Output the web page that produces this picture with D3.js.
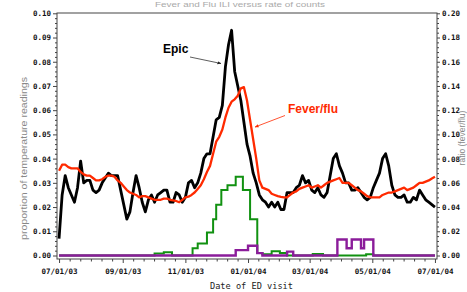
<!DOCTYPE html>
<html>
<head>
<meta charset="utf-8">
<script src="https://cdn.jsdelivr.net/npm/d3@7"></script>
<style>
  body { margin: 0; background: #fff; }
  svg { display: block; }
</style>
</head>
<body>
<div class="chart"></div>
<script>
'use strict';

// Epic and fever/flu series, one value every 3 days from 07/01/03
const seriesStart = '2003-07-01';
const seriesStepDays = 3;

const epicValues = [
    0.007, 0.025, 0.033, 0.028, 0.025, 0.022, 0.028, 0.039, 0.030, 0.031,
    0.031, 0.027, 0.026, 0.027, 0.030, 0.032, 0.034, 0.033, 0.033, 0.033,
    0.027, 0.021, 0.015, 0.018, 0.026, 0.033, 0.028, 0.022, 0.018, 0.023,
    0.025, 0.022, 0.025, 0.026, 0.027, 0.027, 0.022, 0.022, 0.026, 0.025,
    0.022, 0.024, 0.030, 0.031, 0.028, 0.030, 0.034, 0.040, 0.042, 0.042,
    0.049, 0.056, 0.057, 0.062, 0.078, 0.087, 0.093, 0.076, 0.070, 0.064,
    0.055, 0.046, 0.041, 0.034, 0.030, 0.025, 0.023, 0.022, 0.020, 0.022,
    0.020, 0.022, 0.019, 0.019, 0.026, 0.026, 0.026, 0.028, 0.029, 0.033,
    0.030, 0.031, 0.027, 0.026, 0.028, 0.025, 0.024, 0.026, 0.033, 0.040,
    0.042, 0.037, 0.034, 0.030, 0.030, 0.027, 0.027, 0.028, 0.026, 0.024,
    0.023, 0.024, 0.028, 0.031, 0.034, 0.040, 0.042, 0.037, 0.029, 0.025,
    0.024, 0.024, 0.025, 0.022, 0.022, 0.024, 0.023, 0.027, 0.025, 0.023,
    0.022, 0.021, 0.020
];

const feverValues = [
    0.0350, 0.0375, 0.0375, 0.0365, 0.0360, 0.0360, 0.0360, 0.0345, 0.0335, 0.0330,
    0.0330, 0.0320, 0.0310, 0.0310, 0.0315, 0.0325, 0.0330, 0.0330, 0.0325, 0.0310,
    0.0300, 0.0285, 0.0270, 0.0260, 0.0255, 0.0250, 0.0240, 0.0245, 0.0245, 0.0240,
    0.0235, 0.0230, 0.0230, 0.0230, 0.0235, 0.0235, 0.0230, 0.0228, 0.0225, 0.0220,
    0.0230, 0.0240, 0.0243, 0.0250, 0.0260, 0.0275, 0.0290, 0.0315, 0.0345, 0.0370,
    0.0420, 0.0470, 0.0490, 0.0520, 0.0570, 0.0610, 0.0635, 0.0645, 0.0660, 0.0690,
    0.0695, 0.0640, 0.0560, 0.0480, 0.0400, 0.0310, 0.0280, 0.0275, 0.0270, 0.0255,
    0.0250, 0.0245, 0.0242, 0.0240, 0.0240, 0.0250, 0.0260, 0.0265, 0.0275, 0.0280,
    0.0285, 0.0290, 0.0280, 0.0285, 0.0290, 0.0280, 0.0290, 0.0300, 0.0305, 0.0310,
    0.0315, 0.0320, 0.0300, 0.0300, 0.0300, 0.0290, 0.0280, 0.0270, 0.0265, 0.0255,
    0.0245, 0.0240, 0.0240, 0.0240, 0.0240, 0.0250, 0.0255, 0.0260, 0.0260, 0.0265,
    0.0270, 0.0275, 0.0280, 0.0270, 0.0275, 0.0280, 0.0290, 0.0300, 0.0300, 0.0305,
    0.0310, 0.0318, 0.0325
];

// step series: [date the level starts, level]
const greenSteps = [
    ['2003-07-01', 0], ['2003-10-02', 0.0008], ['2003-10-11', 0.0013], ['2003-10-19', 0],
    ['2003-11-08', 0.003], ['2003-11-13', 0.005], ['2003-11-22', 0.0095], ['2003-11-28', 0.015],
    ['2003-12-01', 0.021], ['2003-12-06', 0.027], ['2003-12-12', 0.029], ['2003-12-20', 0.0325],
    ['2003-12-27', 0.027], ['2004-01-03', 0.015], ['2004-01-10', 0.001], ['2004-01-15', 0.0005],
    ['2004-01-24', 0.0018], ['2004-02-01', 0.001], ['2004-02-08', 0], ['2004-03-04', 0.0006],
    ['2004-03-14', 0], ['2004-04-25', 0.0005], ['2004-05-02', 0], ['2004-07-01', 0]
];

const purpleSteps = [
    ['2003-07-01', 0], ['2003-12-20', 0.0022], ['2004-01-01', 0.004], ['2004-01-10', 0.001],
    ['2004-01-15', 0], ['2004-02-08', 0.0016], ['2004-02-14', 0], ['2004-03-28', 0.0066],
    ['2004-04-06', 0.003], ['2004-04-11', 0.0066], ['2004-04-20', 0.003], ['2004-04-23', 0.0066],
    ['2004-05-02', 0], ['2004-07-01', 0]
];

const xTickLabels = ['07/01/03', '09/01/03', '11/01/03', '01/01/04', '03/01/04', '05/01/04', '07/01/04'];
const leftTicks = [0, 0.01, 0.02, 0.03, 0.04, 0.05, 0.06, 0.07, 0.08, 0.09, 0.10];
const rightTicks = [0, 0.02, 0.04, 0.06, 0.08, 0.10, 0.12, 0.14, 0.16, 0.18, 0.20];

const width = 467;
const height = 292;
const frame = {left: 57, right: 437, top: 13, bottom: 259};

const parse = d3.timeParse('%Y-%m-%d');
const fmtTick = d3.timeParse('%m/%d/%y');

const xScale = d3.scaleTime()
    .domain([parse('2003-06-29'), parse('2004-07-03')])
    .range([frame.left, frame.right]);

const yLeft = d3.scaleLinear().domain([0, 0.10]).range([255.5, 13.3]);
const yRight = d3.scaleLinear().domain([0, 0.20]).range([255.5, 13.3]);

const start = parse(seriesStart);
const dateAt = i => d3.timeDay.offset(start, i * seriesStepDays);

const svg = d3.select('.chart').append('svg')
    .attr('width', width)
    .attr('height', height);

// title, faint, squeezed above the frame
svg.append('text')
    .attr('x', 240).attr('y', 7)
    .attr('text-anchor', 'middle')
    .attr('font-family', 'Liberation Sans, Arial, sans-serif')
    .attr('font-size', 7.5)
    .attr('fill', '#aaa')
    .attr('textLength', 170)
    .attr('lengthAdjust', 'spacingAndGlyphs')
    .text('Fever and Flu ILI versus rate of counts');

// frame
svg.append('rect')
    .attr('x', frame.left).attr('y', frame.top)
    .attr('width', frame.right - frame.left)
    .attr('height', frame.bottom - frame.top)
    .attr('fill', 'none')
    .attr('stroke', '#444')
    .attr('stroke-width', 1);

const tickFont = 'DejaVu Sans Mono, monospace';

// x axis ticks
const majorDates = xTickLabels.map(s => fmtTick(s));
const minorDates = [];
for (let i = 0; i < majorDates.length - 1; i++) {
    const a = +majorDates[i], b = +majorDates[i + 1];
    for (let k = 1; k < 6; k++) {
        minorDates.push(new Date(a + (b - a) * k / 6));
    }
}

const xAxisMajor = d3.axisBottom(xScale)
    .tickValues(majorDates)
    .tickSize(4)
    .tickFormat((d, i) => xTickLabels[i]);
const xAxisMinor = d3.axisBottom(xScale)
    .tickValues(minorDates)
    .tickSize(2.5)
    .tickFormat('');

function styleAxis(g) {
    g.select('.domain').remove();
    g.selectAll('line').attr('stroke', '#444');
    g.selectAll('text')
        .attr('font-family', tickFont)
        .attr('font-weight', 'bold')
        .attr('font-size', 7.5)
        .attr('fill', '#111');
}

svg.append('g')
    .attr('transform', `translate(0,${frame.bottom})`)
    .call(xAxisMinor).call(styleAxis);
svg.append('g')
    .attr('class', 'axis axis--x')
    .attr('transform', `translate(0,${frame.bottom})`)
    .call(xAxisMajor).call(styleAxis)
    .selectAll('text').attr('dy', '1.05em');

// y axes
function minorOf(ticks, parts) {
    const out = [];
    for (let i = 0; i < ticks.length - 1; i++) {
        for (let k = 1; k < parts; k++) {
            out.push(ticks[i] + (ticks[i + 1] - ticks[i]) * k / parts);
        }
    }
    return out;
}

svg.append('g')
    .attr('transform', `translate(${frame.left},0)`)
    .call(d3.axisLeft(yLeft).tickValues(minorOf(leftTicks, 5)).tickSize(2).tickFormat(''))
    .call(styleAxis);
svg.append('g')
    .attr('class', 'axis axis--y')
    .attr('transform', `translate(${frame.left},0)`)
    .call(d3.axisLeft(yLeft).tickValues(leftTicks).tickSize(4).tickPadding(2).tickFormat(d3.format('.2f')))
    .call(styleAxis);

svg.append('g')
    .attr('transform', `translate(${frame.right},0)`)
    .call(d3.axisRight(yRight).tickValues(minorOf(rightTicks, 5)).tickSize(2).tickFormat(''))
    .call(styleAxis);
svg.append('g')
    .attr('class', 'axis axis--y2')
    .attr('transform', `translate(${frame.right},0)`)
    .call(d3.axisRight(yRight).tickValues(rightTicks).tickSize(3).tickPadding(2).tickFormat(d3.format('.2f')))
    .call(styleAxis);

// axis titles
svg.append('text')
    .attr('transform', 'translate(27,158.5) rotate(-90)')
    .attr('text-anchor', 'middle')
    .attr('font-family', 'Liberation Sans, Arial, sans-serif')
    .attr('font-size', 9)
    .attr('fill', '#888')
    .attr('textLength', 163)
    .attr('lengthAdjust', 'spacingAndGlyphs')
    .text('proportion of temperature readings');

svg.append('text')
    .attr('transform', 'translate(465,138) rotate(-90)')
    .attr('text-anchor', 'middle')
    .attr('font-family', 'Liberation Sans, Arial, sans-serif')
    .attr('font-size', 8.5)
    .attr('fill', '#888')
    .text('ratio (fever/flu)');

svg.append('text')
    .attr('x', 251.5).attr('y', 288.5)
    .attr('text-anchor', 'middle')
    .attr('font-family', tickFont)
    .attr('font-size', 8.5)
    .attr('fill', '#222')
    .attr('textLength', 83)
    .attr('lengthAdjust', 'spacingAndGlyphs')
    .text('Date of ED visit');

// lines
const stepLine = d3.line()
    .curve(d3.curveStepAfter)
    .x(d => xScale(parse(d[0])))
    .y(d => yLeft(d[1]));

const valueLine = d3.line()
    .x((d, i) => xScale(dateAt(i)))
    .y(d => yLeft(d));

svg.append('path')
    .datum(greenSteps)
    .attr('d', stepLine)
    .attr('fill', 'none')
    .attr('stroke', '#119111')
    .attr('stroke-width', 2);

svg.append('path')
    .datum(purpleSteps)
    .attr('d', stepLine)
    .attr('fill', 'none')
    .attr('stroke', '#8b1c9a')
    .attr('stroke-width', 2.4);

svg.append('path')
    .datum(epicValues)
    .attr('d', valueLine)
    .attr('fill', 'none')
    .attr('stroke', '#000')
    .attr('stroke-width', 2.8)
    .attr('stroke-linejoin', 'round');

svg.append('path')
    .datum(feverValues)
    .attr('d', valueLine)
    .attr('fill', 'none')
    .attr('stroke', '#ff2a00')
    .attr('stroke-width', 2.3)
    .attr('stroke-linejoin', 'round');

// annotations
const defs = svg.append('defs');
function arrowHead(id, color) {
    defs.append('marker')
        .attr('id', id)
        .attr('viewBox', '0 0 10 10')
        .attr('refX', 9).attr('refY', 5)
        .attr('markerWidth', 5).attr('markerHeight', 5)
        .attr('orient', 'auto')
        .append('path')
        .attr('d', 'M0,1 L10,5 L0,9 Z')
        .attr('fill', color);
}
arrowHead('arrow-black', '#222');
arrowHead('arrow-red', '#ff2a00');

svg.append('text')
    .attr('x', 163).attr('y', 53)
    .attr('font-family', 'Liberation Sans, Arial, sans-serif')
    .attr('font-weight', 'bold')
    .attr('font-size', 12)
    .attr('fill', '#000')
    .text('Epic');
svg.append('line')
    .attr('x1', 190).attr('y1', 57)
    .attr('x2', 221).attr('y2', 63.5)
    .attr('stroke', '#333')
    .attr('stroke-width', 0.8)
    .attr('marker-end', 'url(#arrow-black)');

svg.append('text')
    .attr('x', 288).attr('y', 113)
    .attr('font-family', 'Liberation Sans, Arial, sans-serif')
    .attr('font-weight', 'bold')
    .attr('font-size', 12)
    .attr('fill', '#ff2a00')
    .text('Fever/flu');
svg.append('line')
    .attr('x1', 285).attr('y1', 115.5)
    .attr('x2', 255).attr('y2', 127)
    .attr('stroke', '#ff2a00')
    .attr('stroke-width', 0.8)
    .attr('marker-end', 'url(#arrow-red)');
</script>
</body>
</html>
